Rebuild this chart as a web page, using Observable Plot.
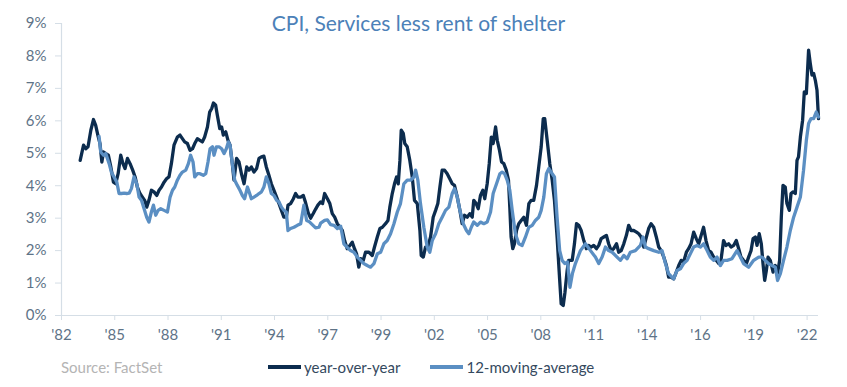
<!DOCTYPE html>
<html>
<head>
<meta charset="utf-8">
<script src="https://cdn.jsdelivr.net/npm/d3@7"></script>
<script src="https://cdn.jsdelivr.net/npm/@observablehq/plot@0.6"></script>
<style>
  html, body { margin: 0; padding: 0; background: #fff; }
  #wrap { position: relative; width: 847px; height: 387px; font-family: Lato, "Open Sans", sans-serif; }
  #title { position: absolute; top: 10px; left: -5px; width: 847px; text-align: center; font-size: 21px; color: #4c81b8; }
  #source { position: absolute; left: 61px; top: 358px; font-size: 15px; color: #b4b4b4; }
  #legend { position: absolute; left: 268px; top: 358px; font-size: 15px; color: #34495e; display: flex; align-items: center; }
  .sw { display: inline-block; width: 33px; height: 4px; margin-right: 3px; }
  .item { display: flex; align-items: center; margin-right: 30px; }
</style>
</head>
<body>
<div id="wrap">
  <div id="chart"></div>
  <div id="title">CPI, Services less rent of shelter</div>
  <div id="source">Source: FactSet</div>
  <div id="legend"></div>
</div>
<script>
const seriesNames = ["year-over-year", "12-moving-average"];
const seriesColors = ["#0c2c4e", "#5b8fc3"];

const tickYears = [1982.2, 1985.05, 1987.9, 1990.75, 1993.6, 1996.45, 1999.3, 2002.15, 2005.0, 2007.85, 2010.7, 2013.55, 2016.4, 2019.25, 2022.1];
const tickLabels = ["'82","'85","'88","'91","'94","'97","'99","'02","'05","'08","'11","'14","'16","'19","'22"];
const yTicks = [0,1,2,3,4,5,6,7,8,9];

// [decimal year, percent]
const yoy = [[1983.20,4.78],[1983.38,5.25],[1983.50,5.14],[1983.62,5.20],[1983.77,5.71],[1983.91,6.04],[1984.03,5.86],[1984.16,5.52],[1984.26,5.30],[1984.36,4.73],[1984.45,5.04],[1984.57,4.99],[1984.71,4.94],[1984.84,4.58],[1984.98,4.11],[1985.10,4.06],[1985.23,4.37],[1985.37,4.94],[1985.49,4.68],[1985.60,4.53],[1985.73,4.84],[1985.87,4.68],[1986.01,4.48],[1986.14,4.27],[1986.26,3.96],[1986.40,3.76],[1986.53,3.65],[1986.65,3.55],[1986.76,3.34],[1986.88,3.55],[1987.01,3.86],[1987.15,3.81],[1987.30,3.70],[1987.42,3.86],[1987.55,3.96],[1987.69,4.11],[1987.83,4.22],[1987.95,4.27],[1988.08,4.68],[1988.22,5.25],[1988.40,5.50],[1988.54,5.56],[1988.67,5.45],[1988.79,5.35],[1988.94,5.30],[1989.08,5.09],[1989.21,5.14],[1989.33,5.30],[1989.47,5.45],[1989.61,5.40],[1989.74,5.35],[1989.86,5.50],[1990.01,5.81],[1990.13,6.27],[1990.24,6.38],[1990.33,6.55],[1990.45,6.48],[1990.54,6.17],[1990.67,5.76],[1990.77,5.81],[1990.86,5.56],[1990.99,5.66],[1991.11,5.40],[1991.22,5.25],[1991.34,4.68],[1991.43,4.17],[1991.57,4.84],[1991.70,4.73],[1991.83,4.37],[1991.97,4.06],[1992.11,4.58],[1992.23,4.48],[1992.36,4.58],[1992.50,4.42],[1992.64,4.53],[1992.77,4.84],[1992.90,4.89],[1993.03,4.91],[1993.16,4.58],[1993.30,4.32],[1993.43,4.06],[1993.57,3.86],[1993.71,3.65],[1993.84,3.45],[1993.97,3.24],[1994.10,3.03],[1994.23,3.03],[1994.32,3.40],[1994.46,3.45],[1994.61,3.60],[1994.73,3.76],[1994.85,3.65],[1995.00,3.65],[1995.14,3.70],[1995.26,3.48],[1995.40,3.17],[1995.53,3.00],[1995.68,3.15],[1995.80,3.28],[1995.92,3.40],[1996.07,3.50],[1996.17,3.45],[1996.28,3.76],[1996.43,3.60],[1996.56,3.45],[1996.69,3.14],[1996.82,3.03],[1996.96,2.83],[1997.10,2.72],[1997.23,2.62],[1997.35,2.31],[1997.49,2.06],[1997.63,2.16],[1997.76,2.26],[1997.88,2.06],[1997.99,1.90],[1998.11,1.49],[1998.21,1.75],[1998.35,1.70],[1998.47,1.95],[1998.65,1.95],[1998.83,1.85],[1998.95,2.11],[1999.10,2.42],[1999.24,2.68],[1999.37,2.72],[1999.54,2.83],[1999.67,2.93],[1999.77,3.34],[1999.90,3.76],[2000.02,4.06],[2000.13,4.27],[2000.22,4.06],[2000.31,4.78],[2000.38,5.71],[2000.49,5.61],[2000.57,5.30],[2000.70,5.20],[2000.84,4.78],[2000.97,4.27],[2001.09,3.55],[2001.24,3.45],[2001.38,2.62],[2001.45,1.85],[2001.56,1.80],[2001.68,2.11],[2001.80,2.11],[2001.95,2.42],[2002.09,3.03],[2002.22,3.24],[2002.34,3.45],[2002.45,3.96],[2002.57,4.48],[2002.70,4.48],[2002.84,4.37],[2002.97,4.22],[2003.11,4.06],[2003.23,4.01],[2003.38,3.65],[2003.52,3.24],[2003.64,2.83],[2003.77,3.09],[2003.91,3.03],[2004.05,3.14],[2004.18,3.03],[2004.26,3.55],[2004.39,3.45],[2004.50,3.29],[2004.62,3.70],[2004.75,3.86],[2004.85,3.60],[2004.98,4.06],[2005.09,4.68],[2005.20,5.50],[2005.30,5.30],[2005.43,5.81],[2005.52,5.40],[2005.64,5.09],[2005.75,4.73],[2005.87,4.68],[2006.00,4.48],[2006.12,4.17],[2006.19,3.34],[2006.26,2.42],[2006.35,2.06],[2006.44,2.21],[2006.55,2.62],[2006.67,2.83],[2006.80,2.93],[2006.94,3.03],[2007.08,2.78],[2007.21,3.45],[2007.33,3.55],[2007.47,3.55],[2007.62,4.01],[2007.74,4.58],[2007.87,5.20],[2007.98,6.07],[2008.06,6.07],[2008.19,5.40],[2008.33,4.68],[2008.46,4.17],[2008.58,3.55],[2008.72,2.42],[2008.85,1.18],[2008.94,0.36],[2009.05,0.31],[2009.14,0.70],[2009.26,1.39],[2009.34,1.70],[2009.53,1.70],[2009.65,2.21],[2009.76,2.83],[2009.88,2.78],[2010.01,2.62],[2010.15,2.31],[2010.29,2.06],[2010.41,2.16],[2010.54,2.11],[2010.68,2.16],[2010.83,2.06],[2010.95,2.16],[2011.08,2.37],[2011.22,2.42],[2011.36,2.47],[2011.48,2.21],[2011.61,2.00],[2011.75,2.06],[2011.90,2.21],[2012.02,1.95],[2012.15,2.00],[2012.29,2.21],[2012.43,2.47],[2012.55,2.78],[2012.68,2.62],[2012.82,2.62],[2012.97,2.57],[2013.09,2.52],[2013.22,2.42],[2013.36,2.11],[2013.50,2.42],[2013.62,2.68],[2013.75,2.83],[2013.89,2.72],[2014.03,2.42],[2014.16,2.11],[2014.29,2.00],[2014.43,1.80],[2014.57,1.54],[2014.69,1.18],[2014.82,1.18],[2014.96,1.13],[2015.10,1.34],[2015.23,1.54],[2015.36,1.70],[2015.49,1.65],[2015.64,1.95],[2015.76,2.06],[2015.89,2.21],[2016.03,2.57],[2016.17,2.37],[2016.30,2.21],[2016.43,2.47],[2016.56,2.72],[2016.69,2.31],[2016.83,2.00],[2016.96,1.95],[2017.10,1.80],[2017.24,1.70],[2017.37,1.60],[2017.49,1.70],[2017.63,2.31],[2017.76,2.16],[2017.90,2.21],[2018.03,2.11],[2018.17,2.16],[2018.31,2.31],[2018.44,2.06],[2018.56,1.80],[2018.70,1.70],[2018.85,1.60],[2018.97,1.80],[2019.10,2.00],[2019.21,2.37],[2019.33,2.42],[2019.42,2.16],[2019.54,2.52],[2019.65,2.21],[2019.74,1.60],[2019.83,1.08],[2019.92,1.39],[2020.01,1.80],[2020.13,1.70],[2020.28,1.34],[2020.40,1.54],[2020.52,1.29],[2020.63,1.70],[2020.72,3.03],[2020.81,4.01],[2020.93,3.96],[2021.02,3.45],[2021.15,3.24],[2021.24,3.76],[2021.35,3.81],[2021.47,3.76],[2021.56,4.78],[2021.64,4.89],[2021.74,5.50],[2021.86,6.02],[2021.95,6.89],[2022.06,6.84],[2022.18,8.18],[2022.27,7.77],[2022.36,7.41],[2022.45,7.46],[2022.54,7.25],[2022.63,6.94],[2022.71,6.07]];

const movingAvg = [[1984.21,5.52],[1984.30,5.04],[1984.45,4.94],[1984.57,4.99],[1984.75,4.68],[1984.87,4.42],[1985.01,4.27],[1985.16,4.11],[1985.28,3.76],[1985.41,3.76],[1985.55,3.77],[1985.69,3.76],[1985.82,3.77],[1985.94,3.91],[1986.08,4.27],[1986.23,4.06],[1986.35,3.65],[1986.48,3.55],[1986.62,3.29],[1986.76,3.03],[1986.88,2.88],[1987.01,3.19],[1987.12,3.40],[1987.24,3.09],[1987.37,3.24],[1987.51,3.29],[1987.69,3.24],[1987.87,3.19],[1988.01,3.65],[1988.14,3.86],[1988.26,3.96],[1988.40,4.17],[1988.54,4.32],[1988.67,4.42],[1988.85,4.48],[1988.99,4.68],[1989.11,4.94],[1989.24,4.73],[1989.33,4.27],[1989.47,4.37],[1989.61,4.37],[1989.79,4.32],[1989.92,4.37],[1990.04,4.73],[1990.15,5.14],[1990.28,5.20],[1990.36,4.94],[1990.49,5.20],[1990.63,5.20],[1990.77,5.14],[1990.90,4.99],[1991.02,5.14],[1991.13,5.35],[1991.22,5.25],[1991.34,4.68],[1991.47,4.17],[1991.61,4.01],[1991.75,3.86],[1991.88,3.70],[1992.00,3.60],[1992.15,3.96],[1992.27,3.76],[1992.36,3.60],[1992.50,3.65],[1992.64,3.70],[1992.77,3.76],[1992.90,3.81],[1993.03,3.96],[1993.16,4.27],[1993.30,4.06],[1993.43,3.76],[1993.57,3.70],[1993.71,3.55],[1993.84,3.50],[1993.97,3.34],[1994.10,3.24],[1994.23,3.19],[1994.32,2.62],[1994.46,2.68],[1994.64,2.72],[1994.82,2.78],[1995.00,2.83],[1995.17,3.40],[1995.32,2.93],[1995.44,2.90],[1995.62,2.80],[1995.80,2.70],[1995.98,2.72],[1996.07,2.85],[1996.28,2.93],[1996.43,2.95],[1996.60,2.80],[1996.78,2.78],[1996.96,2.68],[1997.14,2.75],[1997.31,2.21],[1997.49,2.10],[1997.67,2.00],[1997.85,1.95],[1998.03,1.80],[1998.21,1.70],[1998.38,1.60],[1998.56,1.54],[1998.74,1.49],[1998.92,1.60],[1999.10,1.90],[1999.28,1.95],[1999.45,2.21],[1999.63,2.31],[1999.81,2.52],[1999.99,2.83],[2000.17,3.19],[2000.34,3.45],[2000.52,4.06],[2000.70,4.17],[2000.88,4.17],[2001.06,4.27],[2001.15,4.48],[2001.27,4.17],[2001.41,3.45],[2001.59,2.72],[2001.77,2.11],[2001.91,1.95],[2002.04,2.31],[2002.22,2.52],[2002.39,2.83],[2002.57,3.03],[2002.75,3.24],[2002.93,3.34],[2003.11,3.76],[2003.23,3.91],[2003.38,3.65],[2003.52,3.24],[2003.70,2.83],[2003.87,2.62],[2004.00,2.52],[2004.13,2.72],[2004.26,2.88],[2004.45,2.78],[2004.62,2.88],[2004.80,2.83],[2004.98,2.88],[2005.16,3.19],[2005.30,3.76],[2005.48,4.06],[2005.66,4.37],[2005.78,4.42],[2005.91,4.37],[2006.05,4.17],[2006.19,3.86],[2006.32,3.24],[2006.49,2.52],[2006.67,2.21],[2006.85,2.16],[2007.03,2.42],[2007.21,2.72],[2007.39,2.78],[2007.56,2.93],[2007.74,3.03],[2007.87,3.24],[2008.01,3.65],[2008.15,4.37],[2008.28,4.53],[2008.46,4.37],[2008.58,4.27],[2008.72,3.03],[2008.86,2.00],[2008.99,1.70],[2009.13,1.60],[2009.28,1.65],[2009.41,0.87],[2009.54,1.29],[2009.70,1.60],[2009.97,2.00],[2010.24,2.21],[2010.51,2.00],[2010.77,1.80],[2010.95,1.60],[2011.13,1.80],[2011.31,2.11],[2011.48,2.00],[2011.67,1.95],[2011.93,1.80],[2012.11,1.70],[2012.29,1.85],[2012.47,1.75],[2012.64,1.95],[2012.91,2.00],[2013.18,2.16],[2013.32,2.42],[2013.45,2.11],[2013.62,2.06],[2013.89,2.00],[2014.16,1.95],[2014.34,2.00],[2014.52,1.60],[2014.69,1.29],[2014.96,1.13],[2015.14,1.39],[2015.32,1.44],[2015.49,1.60],[2015.68,1.70],[2015.85,1.90],[2016.03,2.11],[2016.21,2.16],[2016.39,2.11],[2016.56,2.21],[2016.75,2.00],[2016.92,1.80],[2017.10,1.70],[2017.28,1.80],[2017.46,1.54],[2017.63,1.70],[2017.82,1.70],[2018.08,1.75],[2018.35,2.00],[2018.53,1.80],[2018.70,1.60],[2018.97,1.49],[2019.24,1.70],[2019.51,1.80],[2019.69,1.80],[2019.86,1.70],[2020.04,1.60],[2020.22,1.54],[2020.40,1.49],[2020.52,1.08],[2020.67,1.29],[2020.84,1.70],[2021.02,2.11],[2021.20,2.62],[2021.38,3.03],[2021.56,3.34],[2021.74,3.65],[2021.91,4.48],[2022.06,5.40],[2022.18,5.92],[2022.31,6.07],[2022.45,6.07],[2022.59,6.27],[2022.71,6.12]];

const axisColor = "#d5dee6";
const labelColor = "#5e7387";

const chart = Plot.plot({
  width: 847,
  height: 387,
  marginLeft: 61,
  marginRight: 29,
  marginTop: 23,
  marginBottom: 72,
  style: { fontFamily: "Lato, 'Open Sans', sans-serif", fontSize: "15px", background: "transparent" },
  x: { domain: [tickYears[0], yoy[yoy.length - 1][0]] },
  y: { domain: [0, 9] },
  marks: [
    Plot.ruleX([tickYears[0]], { stroke: axisColor, strokeWidth: 1.2 }),
    Plot.ruleY([0], { stroke: axisColor, strokeWidth: 1.2 }),
    Plot.axisY({ ticks: yTicks, tickFormat: d => d + "%", tickSize: 6, tickPadding: 9, stroke: axisColor, fill: labelColor, fontSize: 15, label: null }),
    Plot.axisX({ ticks: tickYears, tickFormat: d => tickLabels[tickYears.indexOf(d)], tickSize: 5, tickPadding: 9, stroke: axisColor, fill: labelColor, fontSize: 15, label: null }),
    Plot.line(yoy, { x: d => d[0], y: d => d[1], stroke: seriesColors[0], strokeWidth: 3.3, strokeLinejoin: "round" }),
    Plot.line(movingAvg, { x: d => d[0], y: d => d[1], stroke: seriesColors[1], strokeWidth: 3.3, strokeLinejoin: "round" })
  ]
});
document.getElementById("chart").appendChild(chart);

const legend = document.getElementById("legend");
seriesNames.forEach((n, i) => {
  const item = document.createElement("span");
  item.className = "item";
  const sw = document.createElement("span");
  sw.className = "sw";
  sw.style.background = seriesColors[i];
  item.appendChild(sw);
  item.appendChild(document.createTextNode(n));
  legend.appendChild(item);
});
</script>
</body>
</html>
